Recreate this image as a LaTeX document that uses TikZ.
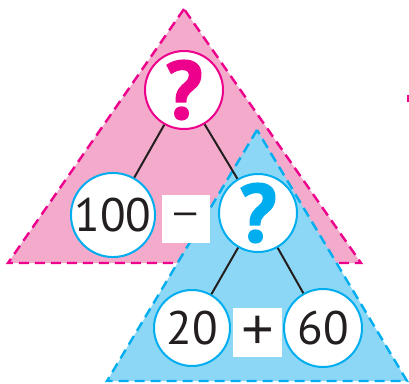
\documentclass[tikz,border=0pt]{standalone}
\usepackage{fontspec}
\setmainfont{PT Sans}
\newfontfamily\qfont[FakeBold=2]{PT Sans Bold}
\newfontfamily\opfont{Liberation Sans}
\definecolor{pinkfill}{HTML}{F3AACB}
\definecolor{magline}{HTML}{EC008C}
\definecolor{bluefill}{HTML}{8DD7F6}
\definecolor{blueline}{HTML}{00AEEF}
\definecolor{ink}{HTML}{231F20}
\tikzset{
  tri/.style={line width=2.4pt, dash pattern=on 10pt off 6pt},
  numcirc/.style={circle, draw=blueline, fill=white, line width=2pt, inner sep=0pt, text=ink,
    font=\fontsize{47}{47}\selectfont},
  qcirc/.style={circle, fill=white, line width=2pt, inner sep=0pt,
    font=\fontsize{82}{82}\qfont\bfseries},
  opbox/.style={fill=white, inner sep=0pt, text=ink},
  link/.style={line width=2pt, draw=ink}
}
\begin{document}
\begin{tikzpicture}[x=1pt,y=-1pt]
\useasboundingbox (0,0) rectangle (409,383);
% triangles
\fill[pinkfill] (184,9) -- (8,263) -- (361,263) -- cycle;
\draw[tri, magline] (184,9) -- (8,263) -- (361,263) -- cycle;
\fill[bluefill] (257,130) -- (107,381) -- (407,381) -- cycle;
\draw[tri, blueline] (257,130) -- (107,381) -- (407,381) -- cycle;
\fill[magline] (407,95) rectangle (409,102);
% nodes
\node[qcirc, draw=magline, text=magline, minimum size=78pt] (pq) at (184,90) {\raisebox{-2pt}{?}};
\node[numcirc, minimum size=80pt] (n100) at (113,215) {100};
\node[qcirc, draw=blueline, text=blueline, minimum size=78pt] (bq) at (258,213) {\raisebox{-2pt}{?}};
\node[numcirc, minimum size=76pt] (n20) at (192,328) {20};
\node[numcirc, minimum size=78pt] (n60) at (323,328) {60};
\node[opbox, minimum size=48pt, font=\fontsize{40}{40}\opfont] (minus) at (186,219) {\raisebox{-5pt}{–}};
\node[opbox, minimum size=49pt, font=\fontsize{56}{56}\opfont] (plus) at (257.5,332.5) {+};
% links
\draw[link] (pq) -- (n100);
\draw[link] (pq) -- (bq);
\draw[link] (bq) -- (n20);
\draw[link] (bq) -- (n60);
\end{tikzpicture}
\end{document}
